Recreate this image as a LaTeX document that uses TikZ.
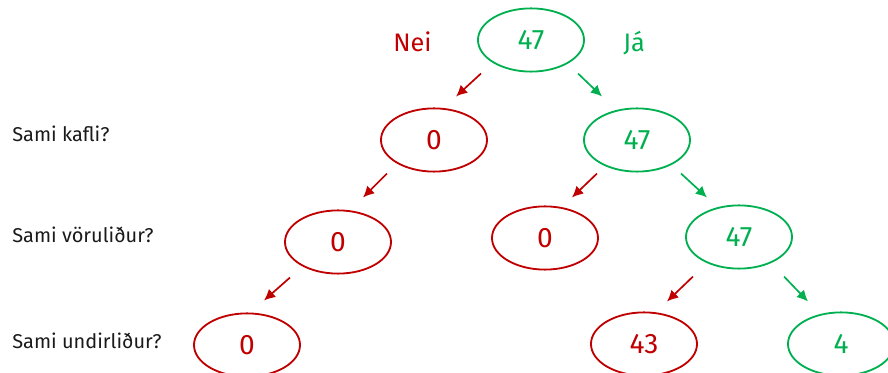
\documentclass[tikz,border=0pt]{standalone}
\usepackage{fontspec}
\setmainfont{Fira Sans}
\usepackage{tikz}
\usetikzlibrary{arrows.meta,positioning,shapes.geometric,calc}
\definecolor{ink}{HTML}{1A1A1A}
\definecolor{nored}{HTML}{C00000}
\definecolor{yesgreen}{HTML}{00B050}
\tikzset{
  ell/.style={ellipse, draw, line width=1.3pt, minimum width=2.65cm, minimum height=1.58cm, inner sep=0pt, font=\fontsize{20}{24}\selectfont},
  redell/.style={ell, draw=nored, text=nored},
  greenell/.style={ell, draw=yesgreen, text=yesgreen},
  question/.style={anchor=base west, inner sep=0pt, text=ink, font=\fontsize{14.2}{17}\selectfont},
  answer/.style={anchor=base west, inner sep=0pt, font=\fontsize{18}{21}\selectfont},
  redarrow/.style={-{Latex[length=2.8mm,width=2.7mm]}, line width=1.2pt, draw=nored},
  greenarrow/.style={-{Latex[length=2.8mm,width=2.7mm]}, line width=1.2pt, draw=yesgreen}
}
\begin{document}
\begin{tikzpicture}[x=0.025cm, y=-0.025cm]
\useasboundingbox (0,0) rectangle (888,373);
% tree
\node[greenell] (root) at (531,40) {47};
\node[answer, text=nored] (nei) at (393,52) {Nei};
\node[answer, text=yesgreen] (ja) at (623,52) {Já};
\node[redell] (lc) at (434,140) {0};
\node[greenell] (rc) at (637,140) {47};
\node[redell] (ll) at (338,242) {0};
\node[redell] (lm) at (545,238) {0};
\node[greenell] (rr) at (739,237) {47};
\node[redell] (lll) at (247,345) {0};
\node[redell] (rrl) at (644,344) {43};
\node[greenell] (rrr) at (841,344) {4};
% questions
\node[question] (q1) at (12,142) {Sami kafli?};
\node[question] (q2) at (12,243) {Sami vöruliður?};
\node[question] (q3) at (12,348) {Sami undirliður?};
% arrows
\draw[redarrow] ($(root.south)+(-50,1)$) -- ($(lc.north)+(22,-11)$);
\draw[greenarrow] ($(root.south)+(47,1)$) -- ($(rc.north)+(-35,-11)$);
\draw[redarrow] ($(lc.south)+(-47,1)$) -- ($(ll.north)+(25,-12)$);
\draw[redarrow] ($(rc.south)+(-40,1)$) -- ($(lm.north)+(27,-8)$);
\draw[greenarrow] ($(rc.south)+(44,1)$) -- ($(rr.north)+(-32,-7)$);
\draw[redarrow] ($(ll.south)+(-48,3)$) -- ($(lll.north)+(17,-12)$);
\draw[redarrow] ($(rr.south)+(-46,7)$) -- ($(rrl.north)+(23,-10)$);
\draw[greenarrow] ($(rr.south)+(45,7)$) -- ($(rrr.north)+(-33,-10)$);
\end{tikzpicture}
\end{document}
